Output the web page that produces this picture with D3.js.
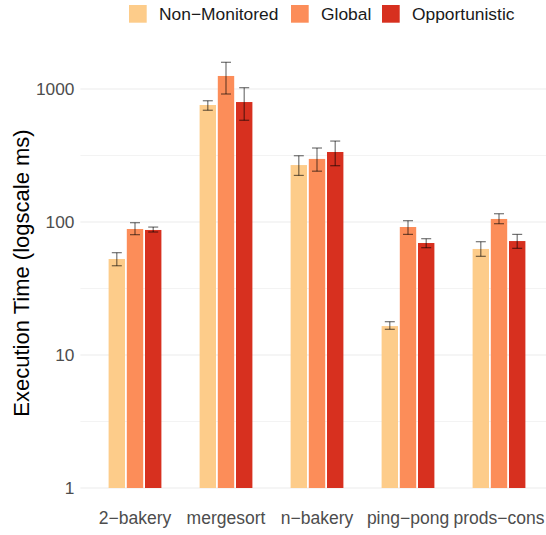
<!DOCTYPE html>
<html>
<head>
<meta charset="utf-8">
<script src="https://cdn.jsdelivr.net/npm/d3@7"></script>
<style>
  html, body { margin: 0; padding: 0; background: #fff; }
  svg { display: block; font-family: "Liberation Sans", Arial, Helvetica, sans-serif; }
</style>
</head>
<body>
<svg id="chart" width="546" height="535"></svg>
<script>
// Benchmarks and monitoring modes
const categories = ["2\u2212bakery", "mergesort", "n\u2212bakery", "ping\u2212pong", "prods\u2212cons"];
const seriesNames = ["Non\u2212Monitored", "Global", "Opportunistic"];
const seriesColors = ["#FDCC8A", "#FC8D59", "#D7301F"];

// Mean execution time (ms) per benchmark, one array per mode
const nonMonitored = [52.7, 758, 268, 16.5, 62.7];
const global = [88.6, 1253, 298, 91.7, 105.4];
const opportunistic = [87.1, 798, 336, 69.5, 71.9];

// Error bar bounds (ms)
const nonMonitoredLow = [46.9, 692, 224, 15.6, 55.2];
const nonMonitoredHigh = [58.8, 816, 315, 17.8, 71.1];
const globalLow = [80.3, 917, 241, 80.7, 97.1];
const globalHigh = [98.8, 1588, 360, 102.3, 115.4];
const opportunisticLow = [84.1, 582, 265, 64.1, 63.4];
const opportunisticHigh = [91.6, 1023, 406, 74.9, 80.7];

const majorTicks = [1, 10, 100, 1000];
const minorTicks = [Math.sqrt(10), Math.sqrt(10) * 10, Math.sqrt(10) * 100];

const values = [nonMonitored, global, opportunistic];
const lows = [nonMonitoredLow, globalLow, opportunisticLow];
const highs = [nonMonitoredHigh, globalHigh, opportunisticHigh];

const rows = [];
categories.forEach((c, i) => {
  seriesNames.forEach((s, j) => {
    rows.push({ cat: c, series: s, idx: j, value: values[j][i], low: lows[j][i], high: highs[j][i] });
  });
});

const svg = d3.select("#chart");
const W = 546;

const panelLeft = 80.4, panelRight = 553.6;

const y = d3.scaleLog().domain([1, 1000]).range([488, 89]);

const x0 = d3.scaleBand().domain(categories).range([panelLeft, panelRight])
  .paddingInner(0.4).paddingOuter(0.3);
const x1 = d3.scaleBand().domain(seriesNames).range([0, x0.bandwidth()]).padding(0);
const color = d3.scaleOrdinal().domain(seriesNames).range(seriesColors);

// Grid lines
svg.append("g").selectAll("line.minor").data(minorTicks).join("line")
  .attr("x1", panelLeft).attr("x2", W)
  .attr("y1", d => y(d)).attr("y2", d => y(d))
  .attr("stroke", "#EBEBEB").attr("stroke-width", 0.6);
svg.append("g").selectAll("line.major").data(majorTicks).join("line")
  .attr("x1", panelLeft).attr("x2", W)
  .attr("y1", d => y(d)).attr("y2", d => y(d))
  .attr("stroke", "#EBEBEB").attr("stroke-width", 1.1);

// Y axis labels
const yAxis = d3.axisLeft(y).tickValues(majorTicks).tickFormat(d3.format("d")).tickSize(0).tickPadding(6);
const yg = svg.append("g").attr("transform", `translate(${panelLeft},0)`).call(yAxis);
yg.select(".domain").remove();
yg.selectAll("text").attr("fill", "#4D4D4D").style("font-size", "17.3px")
  .style("font-family", "'Liberation Sans', Arial, sans-serif");

// X axis labels
const xAxis = d3.axisBottom(x0).tickSize(0).tickPadding(0);
const xg = svg.append("g").attr("transform", "translate(0,512)").call(xAxis);
xg.select(".domain").remove();
xg.selectAll("text").attr("fill", "#4D4D4D").style("font-size", "17.5px")
  .style("font-family", "'Liberation Sans', Arial, sans-serif");

// Bars
const inset = 0.9;
svg.append("g").selectAll("rect").data(rows).join("rect")
  .attr("x", d => x0(d.cat) + x1(d.series) + inset)
  .attr("width", x1.bandwidth() - 2 * inset)
  .attr("y", d => y(d.value))
  .attr("height", d => y(1) - y(d.value))
  .attr("fill", d => color(d.series));

// Error bars
const capHalf = 5;
const eb = svg.append("g").attr("stroke", "#000").attr("stroke-opacity", 0.55).attr("stroke-width", 1.2);
rows.forEach(d => {
  const cx = x0(d.cat) + x1(d.series) + x1.bandwidth() / 2;
  eb.append("line").attr("x1", cx).attr("x2", cx).attr("y1", y(d.high)).attr("y2", y(d.low));
  eb.append("line").attr("x1", cx - capHalf).attr("x2", cx + capHalf).attr("y1", y(d.high)).attr("y2", y(d.high));
  eb.append("line").attr("x1", cx - capHalf).attr("x2", cx + capHalf).attr("y1", y(d.low)).attr("y2", y(d.low));
});

// Y axis title
svg.append("text")
  .attr("transform", "translate(29,273) rotate(-90)")
  .attr("text-anchor", "middle")
  .attr("fill", "#000")
  .style("font-size", "22px")
  .text("Execution Time (logscale ms)");

// Legend
const legendX = [129, 291, 382];
const legend = svg.append("g");
seriesNames.forEach((s, i) => {
  legend.append("rect").attr("x", legendX[i]).attr("y", 5).attr("width", 17.7).attr("height", 17.7)
    .attr("fill", seriesColors[i]);
  legend.append("text").attr("x", legendX[i] + 30).attr("y", 20)
    .attr("fill", "#1A1A1A").style("font-size", "17.4px").text(s);
});
</script>
</body>
</html>
